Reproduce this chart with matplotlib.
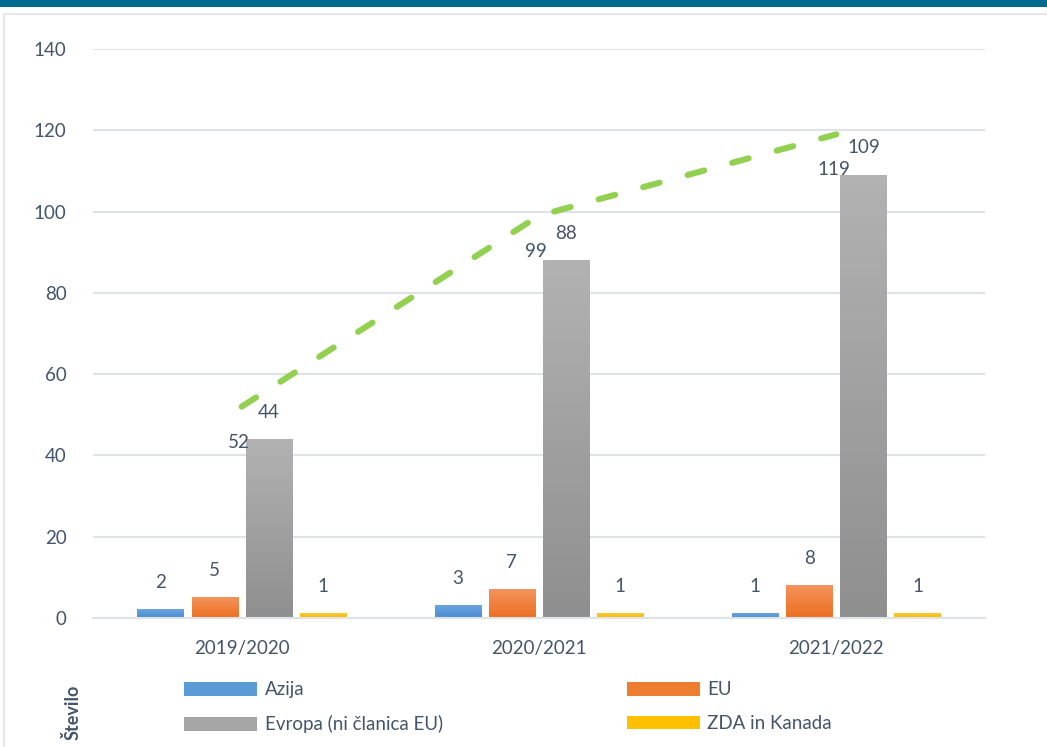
import matplotlib
matplotlib.use("Agg")
import matplotlib.pyplot as plt
import numpy as np
from matplotlib.colors import LinearSegmentedColormap
from matplotlib.patches import Rectangle, Patch

categories = ["2019/2020", "2020/2021", "2021/2022"]
series_names = ["Azija", "EU", "Evropa (ni članica EU)", "ZDA in Kanada"]
azija = [2, 3, 1]
eu = [5, 7, 8]
evropa = [44, 88, 109]
zda = [1, 1, 1]
skupaj = [52, 99, 119]
yticks = [0, 20, 40, 60, 80, 100, 120, 140]
ylabel = "Število"

series = [azija, eu, evropa, zda]
top_cols = ["#6aa6e0", "#f4935c", "#b2b2b2", "#ffc933"]
bot_cols = ["#4a8bd0", "#ec6f20", "#8f8f8f", "#f2b800"]
solid_cols = ["#5b9bd5", "#ed7d31", "#a5a5a5", "#ffc000"]
txt_col = "#44546a"
font = "Lato"

plt.rcParams['font.family'] = [font, 'DejaVu Sans']

fig = plt.figure(figsize=(10.47, 7.47), dpi=100)
ax = fig.add_axes([0.0888, 0.1727, 0.852, 0.7617])

x = np.arange(len(categories))
bw = 0.155
step = 0.182
offsets = (np.arange(4) - 1.5) * step
grad = np.linspace(1, 0, 100).reshape(-1, 1)
handles = []
for i, s in enumerate(series):
    bars = ax.bar(x + offsets[i], s, width=bw, color=solid_cols[i], zorder=2)
    cmap = LinearSegmentedColormap.from_list("g%d" % i, [bot_cols[i], top_cols[i]])
    for b, v in zip(bars, s):
        b.set_alpha(0)
        ax.imshow(grad, extent=(b.get_x(), b.get_x() + b.get_width(), 0, v),
                  cmap=cmap, aspect='auto', zorder=2.1, vmin=0, vmax=1)
        ax.annotate(str(v), (b.get_x() + b.get_width() / 2, v), xytext=(0, 19.5),
                    textcoords='offset points', ha='center', va='center',
                    fontsize=13.5, color=txt_col, zorder=4)
    handles.append(Patch(facecolor=solid_cols[i], label=series_names[i]))

ax.plot(x, skupaj, color="#92d050", lw=4.4, dashes=(2.8, 4.75),
        dash_capstyle='round', solid_capstyle='round', zorder=3)
for xi, v in zip(x, skupaj):
    ax.annotate(str(v), (xi, v), xytext=(-2, -25.5), textcoords='offset points',
                ha='center', va='center', fontsize=13.5, color=txt_col, zorder=4)

ax.set_xlim(-0.5, 2.5)
ax.set_ylim(0, 140)
ax.set_yticks(yticks)
ax.set_xticks(x)
ax.set_xticklabels(categories)
ax.tick_params(axis='both', length=0, labelsize=13.5, colors=txt_col)
ax.tick_params(axis='y', pad=19)
ax.tick_params(axis='x', pad=16)
ax.grid(axis='y', color="#dfe2e6", lw=1.5, zorder=0)
ax.set_axisbelow(True)
for sp in ['top', 'right', 'left']:
    ax.spines[sp].set_visible(False)
ax.spines['bottom'].set_color("#dfe2e6")
ax.spines['bottom'].set_linewidth(1.5)

fig.text(0.0688, 0.047, ylabel, rotation=90, ha='center', va='center',
         fontsize=13, fontweight='bold', color=txt_col)

# legend filled row-wise: reorder for column-major filling
leg_handles = [handles[0], handles[2], handles[1], handles[3]]
leg = fig.legend(handles=leg_handles, loc='upper left', bbox_to_anchor=(0.176, 0.088),
                 ncol=2, frameon=False, fontsize=13.5, handlelength=3.9,
                 handleheight=0.75, handletextpad=0.4, columnspacing=9.8,
                 labelspacing=0.9, borderpad=0, borderaxespad=0)
for t in leg.get_texts():
    t.set_color(txt_col)

# header band and border
fig.patches.append(Rectangle((0, 1 - 7 / 747), 1, 7 / 747, transform=fig.transFigure,
                             facecolor="#006b8f", edgecolor='none', zorder=5))
fig.patches.append(Rectangle((4 / 1047, -0.01), 1.0, 1 - 14 / 747 + 0.01,
                             transform=fig.transFigure, facecolor='none',
                             edgecolor="#e0e3e8", lw=1.2, zorder=1))

fig.savefig("out.png", dpi=100)
